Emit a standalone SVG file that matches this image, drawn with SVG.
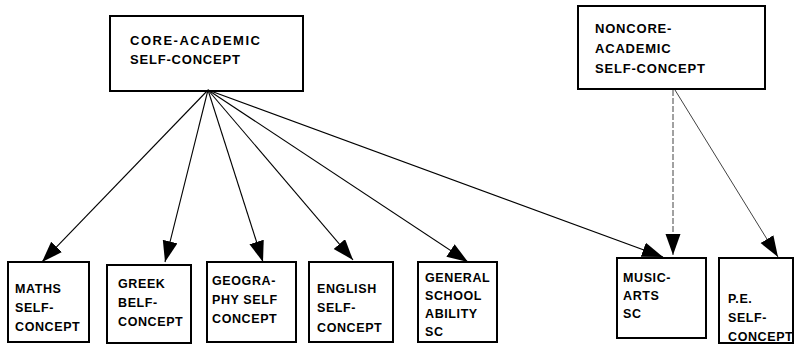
<svg xmlns="http://www.w3.org/2000/svg" width="796" height="345" viewBox="0 0 796 345">
<defs>
<style>
.box{fill:#fff;stroke:#000;stroke-width:2}
.t{font-family:"Liberation Sans",Arial,sans-serif;font-weight:bold;font-size:12.5px;letter-spacing:0.6px;fill:#000}
.tt{font-family:"Liberation Sans",Arial,sans-serif;font-weight:bold;font-size:13px;letter-spacing:0.8px;fill:#000}
.c{fill:none;stroke:#000;stroke-width:1.1}
.c2{fill:none;stroke:#111;stroke-width:0.8}
</style>
<marker id="ah" markerUnits="userSpaceOnUse" markerWidth="22" markerHeight="16" refX="21" refY="7.5" orient="auto" viewBox="0 0 22 16">
<path d="M0,0 L21,7.5 L0,15 z" fill="#000"/>
</marker>
</defs>
<rect width="796" height="345" fill="#fff"/>
<g id="core">
<rect class="box" x="110" y="16" width="193" height="75"/>
<text class="tt" x="130" y="45" style="letter-spacing:1.5px">CORE-ACADEMIC</text>
<text class="tt" x="130" y="64">SELF-CONCEPT</text>
</g>
<g id="noncore">
<rect class="box" x="578" y="6" width="187" height="83"/>
<text class="tt" x="595" y="33">NONCORE-</text>
<text class="tt" x="595" y="53">ACADEMIC</text>
<text class="tt" x="595" y="73">SELF-CONCEPT</text>
</g>
<g id="maths">
<rect class="box" x="8" y="262" width="81" height="80"/>
<text class="t" x="15" y="293">MATHS</text>
<text class="t" x="15" y="312">SELF-</text>
<text class="t" x="15" y="331">CONCEPT</text>
</g>
<g id="greek">
<rect class="box" x="107" y="265" width="84" height="78"/>
<text class="t" x="118" y="288">GREEK</text>
<text class="t" x="118" y="307">BELF-</text>
<text class="t" x="118" y="326">CONCEPT</text>
</g>
<g id="geography">
<rect class="box" x="207" y="262" width="89" height="80"/>
<text class="t" x="212" y="285">GEOGRA-</text>
<text class="t" x="212" y="304">PHY SELF</text>
<text class="t" x="212" y="323">CONCEPT</text>
</g>
<g id="english">
<rect class="box" x="309" y="262" width="84" height="80"/>
<text class="t" x="317" y="293">ENGLISH</text>
<text class="t" x="317" y="312">SELF-</text>
<text class="t" x="317" y="332">CONCEPT</text>
</g>
<g id="general">
<rect class="box" x="418" y="262" width="79" height="80"/>
<text class="t" x="425" y="282">GENERAL</text>
<text class="t" x="425" y="300">SCHOOL</text>
<text class="t" x="425" y="318">ABILITY</text>
<text class="t" x="425" y="336">SC</text>
</g>
<g id="music">
<rect class="box" x="617" y="258" width="89" height="80"/>
<text class="t" x="623" y="282">MUSIC-</text>
<text class="t" x="623" y="300">ARTS</text>
<text class="t" x="623" y="318">SC</text>
</g>
<g id="pe">
<rect class="box" x="719" y="258" width="74" height="85"/>
<text class="t" x="728" y="303">P.E.</text>
<text class="t" x="728" y="322">SELF-</text>
<text class="t" x="728" y="341">CONCEPT</text>
</g>
<g id="connectors">
<line class="c" x1="208" y1="90" x2="42" y2="262" marker-end="url(#ah)"/>
<line class="c" x1="208" y1="90" x2="165" y2="262" marker-end="url(#ah)"/>
<line class="c" x1="208" y1="90" x2="263" y2="262" marker-end="url(#ah)"/>
<line class="c" x1="208" y1="90" x2="353" y2="260" marker-end="url(#ah)"/>
<line class="c" x1="208" y1="90" x2="468" y2="262" marker-end="url(#ah)"/>
<line class="c" x1="208" y1="90" x2="663" y2="257" marker-end="url(#ah)"/>
<line class="c2" x1="673" y1="90" x2="673" y2="255" stroke-dasharray="6 2" marker-end="url(#ah)"/>
<line class="c2" x1="675" y1="90" x2="778" y2="257" marker-end="url(#ah)"/>
</g>
</svg>
